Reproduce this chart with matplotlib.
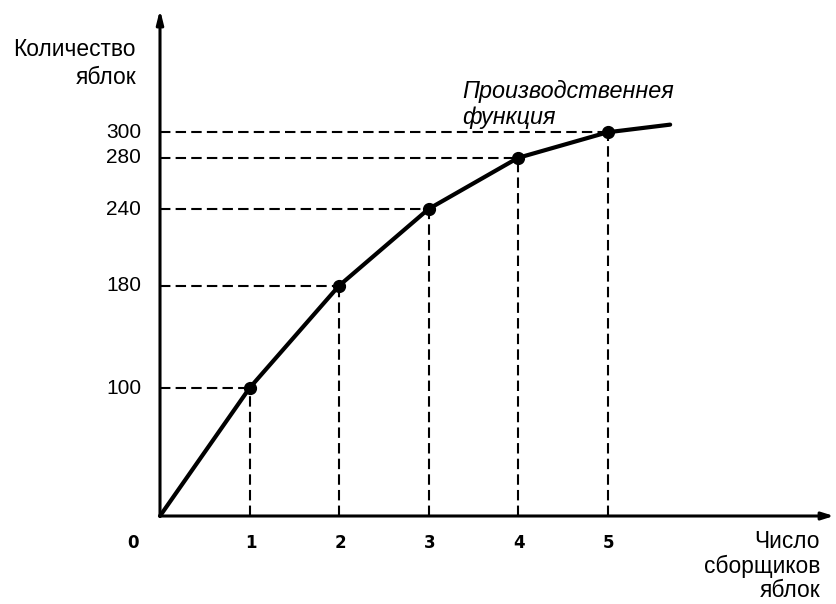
import matplotlib
matplotlib.use("Agg")
import matplotlib.pyplot as plt

workers = [0, 1, 2, 3, 4, 5]
apples = [0, 100, 180, 240, 280, 300]
curve_end_x = 5.7
curve_end_y = 306
y_ticks = [100, 180, 240, 280, 300]
x_ticks = [0, 1, 2, 3, 4, 5]

W, H = 836, 604
fig = plt.figure(figsize=(W / 100, H / 100), dpi=100)
ax = fig.add_axes([0, 0, 1, 1])
ax.axis("off")

# pixel mapping: x_px = 160 + 89.5*x ; y_px(top) = 516 - 1.279*y
x0, sx = 160, 89.5
y0, sy = 516, 1.279
ax.set_xlim(-x0 / sx, (W - x0) / sx)
ax.set_ylim((y0 - H) / sy, y0 / sy)

# axes with arrows
ax.annotate("", xy=(7.53, 0), xytext=(0, 0),
            arrowprops=dict(arrowstyle="-|>,head_length=0.7,head_width=0.22", lw=2.2, color="black",
                            shrinkA=0, shrinkB=0))
ax.annotate("", xy=(0, 396), xytext=(0, 0),
            arrowprops=dict(arrowstyle="-|>,head_length=0.8,head_width=0.2", lw=2.2, color="black",
                            shrinkA=0, shrinkB=0))

# dashed guides
for xv, yv in zip(workers[1:], apples[1:]):
    ax.plot([0, xv], [yv, yv], ls=(0, (5, 2.5)), lw=1.5, color="black")
    ax.plot([xv, xv], [0, yv], ls=(0, (5, 2.5)), lw=1.5, color="black")

# production function
ax.plot(workers + [curve_end_x], apples + [curve_end_y], color="black", lw=3,
        solid_capstyle="round", solid_joinstyle="round")
ax.plot(workers[1:], apples[1:], "o", color="black", ms=8.5)

# y tick labels
for yv in y_ticks:
    ax.text(-19 / sx, yv, str(yv), ha="right", va="center", fontsize=15,
            family="Liberation Sans", color="black")

# x tick labels
for xv in x_ticks:
    xp = xv - 27 / sx if xv == 0 else xv + 1 / sx
    ax.text(xp, -21, str(xv), ha="center", va="center", fontsize=12,
            fontweight="bold", family="DejaVu Sans", color="black")

ax.text(-24 / sx, (516 - 63.5) / sy, "Количество\nяблок", ha="right", va="center",
        fontsize=16.4, family="Liberation Sans", linespacing=1.3, multialignment="right")
ax.text((820 - x0) / sx, (516 - 566) / sy, "Число\nсборщиков\nяблок", ha="right", va="center",
        fontsize=16.4, family="Liberation Sans", linespacing=1.1, multialignment="right")
ax.text((462 - x0) / sx, (516 - 104.5) / sy, "Производственнея\nфункция", ha="left", va="center",
        fontsize=16.8, family="Liberation Sans", style="italic", linespacing=1.15)

fig.savefig("out.png", dpi=100)
